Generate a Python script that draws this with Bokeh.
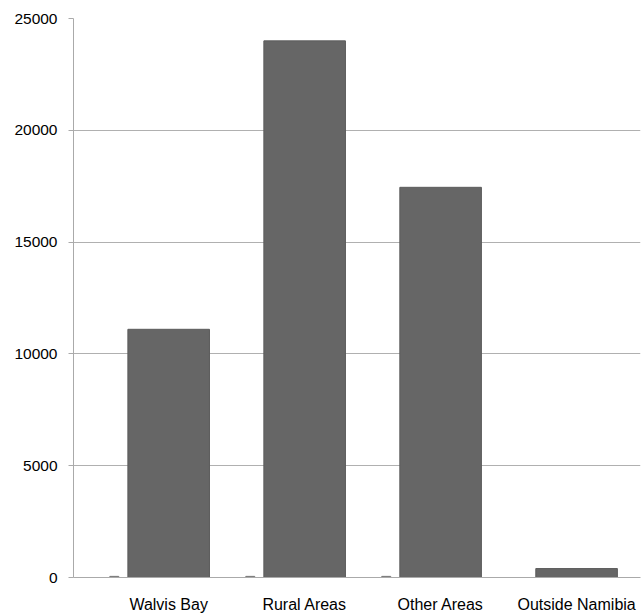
from bokeh.plotting import figure
from bokeh.models import FixedTicker, Range1d, ColumnDataSource
from bokeh.embed import file_html
from bokeh.resources import INLINE

categories = ["Walvis Bay", "Rural Areas", "Other Areas", "Outside Namibia"]
values = [11100, 24000, 17450, 400]
minor_series = [50, 50, 50, 0]
y_ticks = [0, 5000, 10000, 15000, 20000, 25000]

idx = list(range(len(categories)))
src = ColumnDataSource(dict(x=idx, top=values))
src2 = ColumnDataSource(dict(x=[i - 0.40 for i in idx[:3]], top=minor_series[:3]))

p = figure(width=642, height=615, output_backend="svg", toolbar_location=None,
           x_range=Range1d(-0.70, 3.47), y_range=Range1d(0, 25000),
           min_border_left=73, min_border_right=2, min_border_top=18, min_border_bottom=38)
p.outline_line_color = None

p.vbar(x="x", top="top", width=0.60, source=src, fill_color="#666666", line_color="#5c5c5c")
p.vbar(x="x", top="top", width=0.066, source=src2, fill_color="#777777", line_color="#777777")

p.xgrid.grid_line_color = None
p.ygrid.grid_line_color = "#b0b0b0"
p.ygrid.ticker = FixedTicker(ticks=y_ticks)

p.yaxis.ticker = FixedTicker(ticks=y_ticks)
p.yaxis.axis_line_color = "#aaaaaa"
p.yaxis.major_tick_line_color = "#aaaaaa"
p.yaxis.major_tick_out = 5
p.yaxis.major_tick_in = 0
p.yaxis.minor_tick_line_color = None
p.yaxis.major_label_text_font = "Liberation Sans"
p.yaxis.major_label_text_font_size = "15.5px"
p.yaxis.major_label_text_color = "#000000"
p.yaxis.major_label_standoff = 11

p.xaxis.ticker = FixedTicker(ticks=idx)
p.xaxis.major_label_overrides = {i: c for i, c in zip(idx, categories)}
p.xaxis.axis_line_color = "#aaaaaa"
p.xaxis.major_tick_line_color = None
p.xaxis.minor_tick_line_color = None
p.xaxis.major_label_text_font = "Liberation Sans"
p.xaxis.major_label_text_font_size = "16px"
p.xaxis.major_label_text_color = "#000000"
p.xaxis.major_label_standoff = 12

open("out.html", "w").write(file_html(p, INLINE))
